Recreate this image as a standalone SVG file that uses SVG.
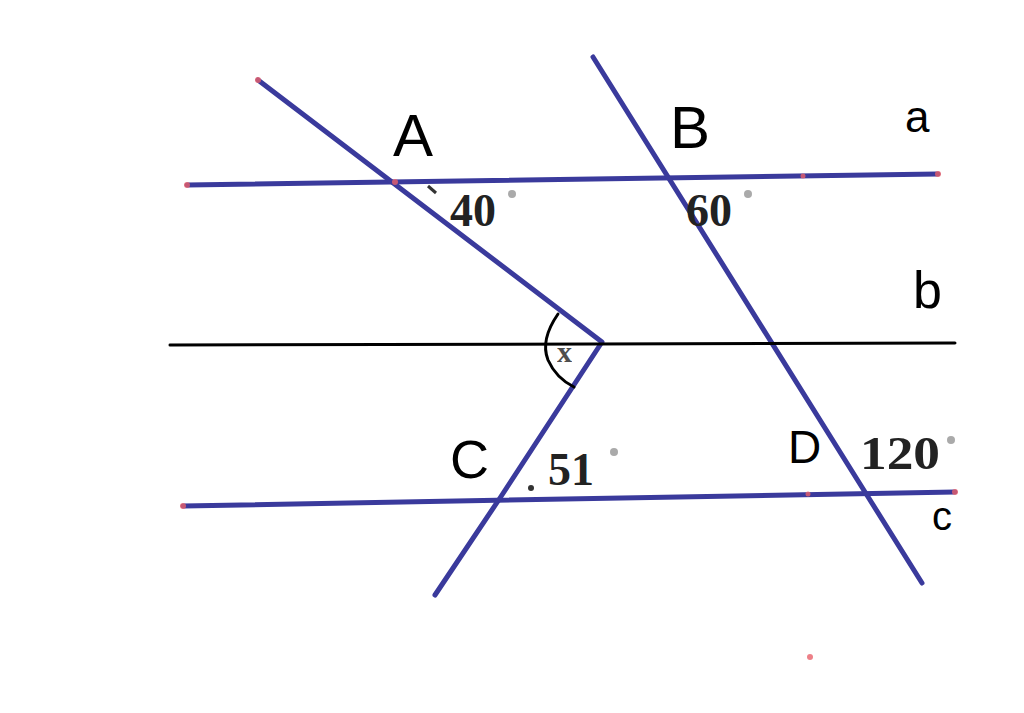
<svg xmlns="http://www.w3.org/2000/svg" width="1024" height="713" viewBox="0 0 1024 713">
<style>
.ln{stroke:#3a3a9c;stroke-width:5;fill:none;stroke-linecap:round;stroke-linejoin:round}
.bk{stroke:#000;stroke-width:3;fill:none;stroke-linecap:round}
.dot{fill:#e8606a;opacity:0.8}
.hand{font-family:"Liberation Sans",sans-serif;fill:#000;font-weight:normal}
.ang{font-family:"Liberation Serif",serif;font-weight:bold;fill:#222}
.deg{fill:#aaa}
</style>
<rect width="1024" height="713" fill="#fff"/>
<g id="connectors">
<path class="ln" d="M187,185 L938,174"/>
<path class="ln" d="M183,506 L955,492"/>
<path class="ln" d="M258,80 L602,342 L500,498 L435,595"/>
<path class="ln" d="M593,57 L865,492 L922,583"/>
<path class="bk" d="M170,345 L955,343"/>
<path class="bk" d="M558,314 Q540,340 548,360 Q556,378 574,387"/>
</g>
<g id="dots">
<circle class="dot" cx="187" cy="185" r="3"/>
<circle class="dot" cx="258" cy="80" r="3"/>
<circle class="dot" cx="938" cy="174" r="3"/>
<circle class="dot" cx="803" cy="176" r="2.5"/>
<circle class="dot" cx="183" cy="506" r="3"/>
<circle class="dot" cx="955" cy="492" r="3"/>
<circle class="dot" cx="808" cy="494" r="2.5"/>
<circle class="dot" cx="810" cy="657" r="3"/>
<circle class="dot" cx="395" cy="182" r="3"/>
</g>
<g id="node-A"><text class="hand" x="393" y="156" font-size="60">A</text></g>
<g id="node-B"><text class="hand" x="670" y="148" font-size="60">B</text></g>
<g id="node-a"><text class="hand" x="905" y="132" font-size="44">a</text></g>
<g id="node-b"><text class="hand" x="913" y="308" font-size="52">b</text></g>
<g id="node-C"><text class="hand" x="450" y="478" font-size="54">C</text></g>
<g id="node-D"><text class="hand" x="788" y="463" font-size="46">D</text></g>
<g id="node-c"><text class="hand" x="932" y="530" font-size="40">c</text></g>
<g id="angles">
<path d="M428,186 L436,193" stroke="#333" stroke-width="3"/>
<text class="ang" x="450" y="226" font-size="46">40</text><circle class="deg" cx="512" cy="194" r="4"/>
<text class="ang" x="686" y="226" font-size="46">60</text><circle class="deg" cx="748" cy="194" r="4"/>
<text class="ang" x="557" y="362" font-size="30" fill="#555" opacity="0.8">x</text>
<circle cx="531" cy="488" r="3" fill="#333"/>
<text class="ang" x="548" y="485" font-size="46">51</text><circle class="deg" cx="614" cy="452" r="4"/>
<text class="ang" x="860" y="469" font-size="46" textLength="80" lengthAdjust="spacingAndGlyphs">120</text><circle class="deg" cx="951" cy="440" r="4"/>
</g>
</svg>
